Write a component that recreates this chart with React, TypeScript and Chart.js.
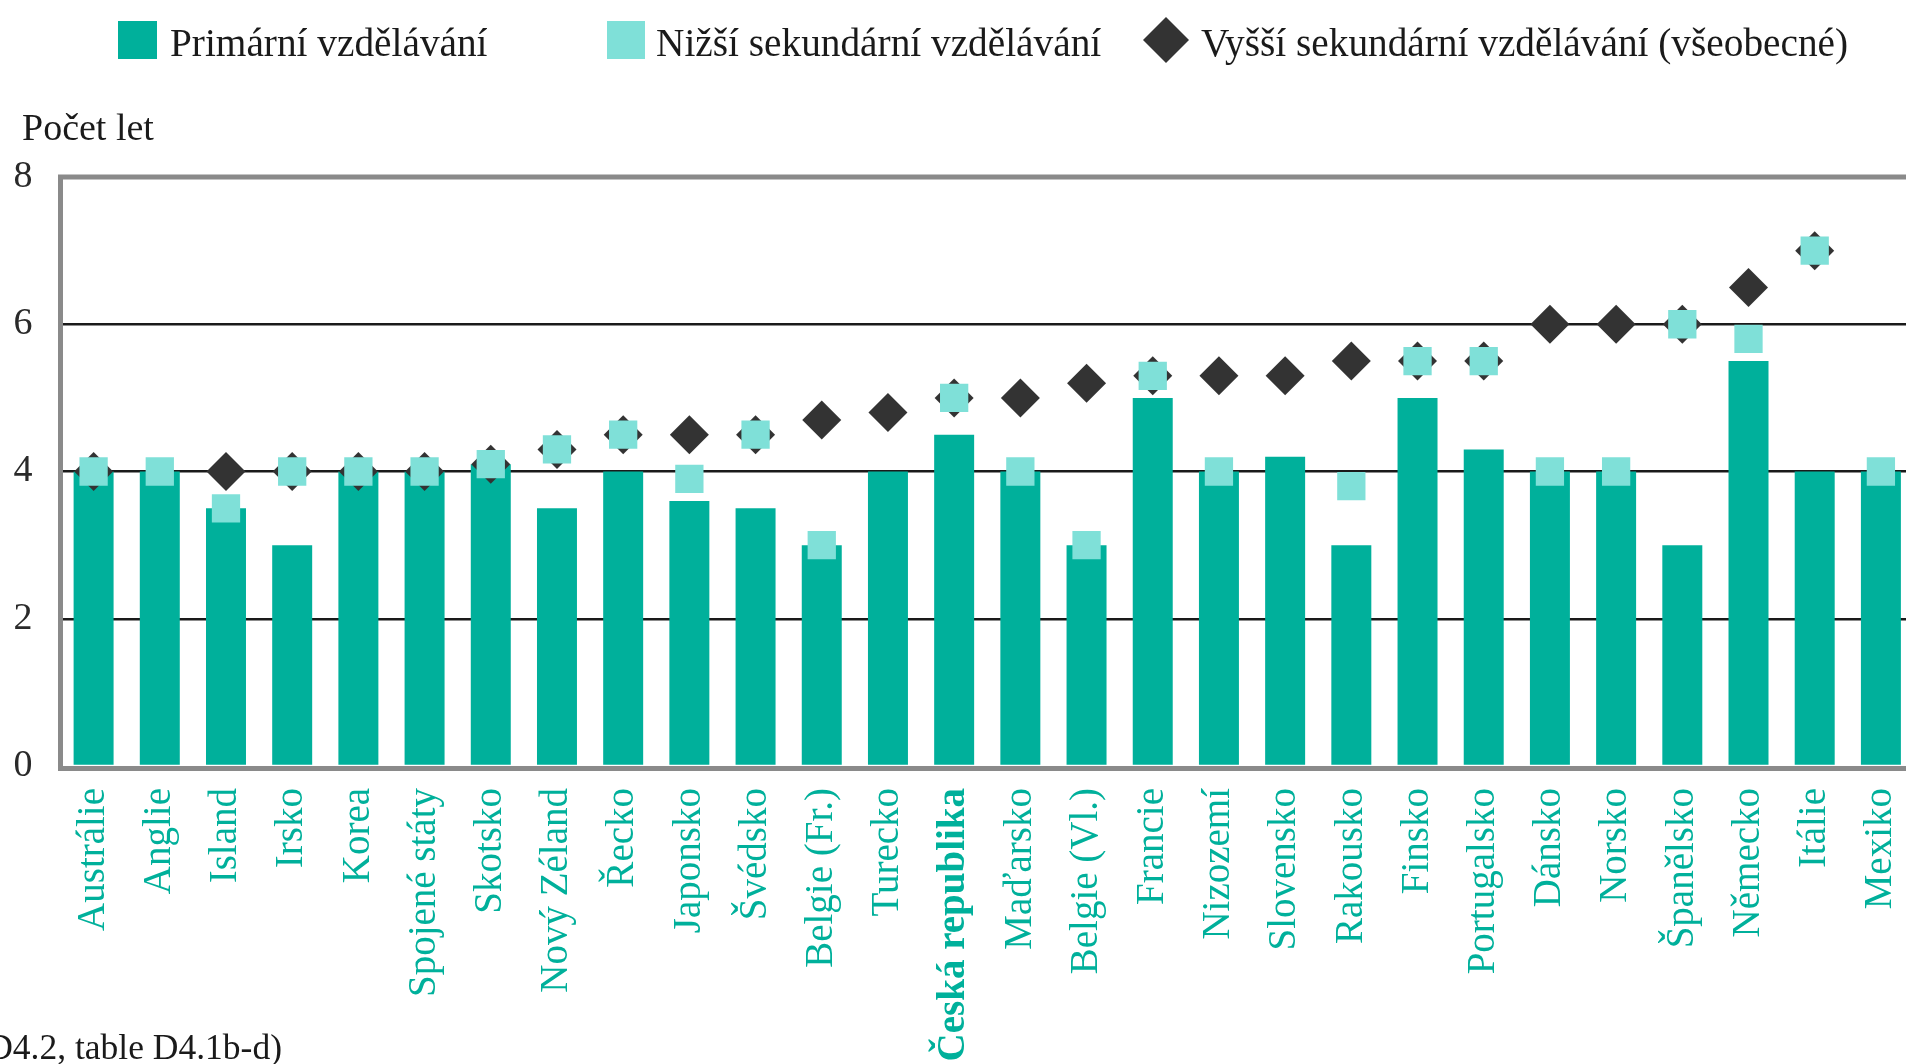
import React, { useEffect, useRef } from "react";
import { Chart, registerables } from "chart.js";

Chart.register(...registerables);

const categories = [
  "Austrálie", "Anglie", "Island", "Irsko", "Korea", "Spojené státy", "Skotsko",
  "Nový Zéland", "Řecko", "Japonsko", "Švédsko", "Belgie (Fr.)", "Turecko",
  "Česká republika", "Maďarsko", "Belgie (Vl.)", "Francie", "Nizozemí", "Slovensko",
  "Rakousko", "Finsko", "Portugalsko", "Dánsko", "Norsko", "Španělsko", "Německo",
  "Itálie", "Mexiko",
];

const primary = [4, 4, 3.5, 3, 4, 4, 4.1, 3.5, 4, 3.6, 3.5, 3, 4, 4.5, 4, 3, 5, 4, 4.2, 3, 5, 4.3, 4, 4, 3, 5.5, 4, 4];
const lowerSecondary = [4, 4, 3.5, 4, 4, 4, 4.1, 4.3, 4.5, 3.9, 4.5, 3, null, 5, 4, 3, 5.3, 4, null, 3.8, 5.5, 5.5, 4, 4, 6, 5.8, 7, 4];
const upperSecondary = [4, null, 4, 4, 4, 4, 4.1, 4.3, 4.5, 4.5, 4.5, 4.7, 4.8, 5, 5, 5.2, 5.3, 5.3, 5.3, 5.5, 5.5, 5.5, 6, 6, 6, 6.5, 7, null];

const yTicks = [0, 2, 4, 6, 8];
const seriesNames = [
  "Primární vzdělávání",
  "Nižší sekundární vzdělávání",
  "Vyšší sekundární vzdělávání (všeobecné)",
];
const yTitle = "Počet let";
const footnote = "D4.2, table D4.1b-d)";
const highlighted = "Česká republika";

const TEAL = "#00b09b";
const LIGHT = "#7fe0d8";
const DARK = "#333333";
const FRAME = "#8a8a8a";
const FONT = "'Liberation Serif', 'Times New Roman', serif";

const framePlugin = {
  id: "frame",
  beforeDatasetsDraw(chart: any) {
    const { ctx, chartArea, scales } = chart;
    const y = scales.y;
    const top = y.getPixelForValue(8);
    const bottom = y.getPixelForValue(0) + 2.5;
    ctx.save();
    ctx.strokeStyle = FRAME;
    ctx.lineWidth = 5;
    ctx.beginPath();
    ctx.moveTo(chartArea.right + 10, top);
    ctx.lineTo(chartArea.left, top);
    ctx.lineTo(chartArea.left, bottom);
    ctx.lineTo(chartArea.right + 10, bottom);
    ctx.stroke();
    ctx.restore();
  },
};

function ChartCanvas() {
  const ref = useRef<HTMLCanvasElement | null>(null);
  useEffect(() => {
    if (!ref.current) return;
    const chart = new Chart(ref.current, {
      type: "bar",
      data: {
        labels: categories,
        datasets: [
          {
            type: "line",
            label: seriesNames[1],
            data: lowerSecondary,
            showLine: false,
            pointStyle: "rect",
            pointRadius: 20,
            pointBackgroundColor: LIGHT,
            pointBorderWidth: 0,
            borderColor: LIGHT,
            backgroundColor: LIGHT,
            order: 0,
          } as any,
          {
            type: "line",
            label: seriesNames[2],
            data: upperSecondary,
            showLine: false,
            pointStyle: "rectRot",
            pointRadius: 19.5,
            pointBackgroundColor: DARK,
            pointBorderWidth: 0,
            borderColor: DARK,
            backgroundColor: DARK,
            order: 1,
          } as any,
          {
            type: "bar",
            label: seriesNames[0],
            data: primary,
            backgroundColor: TEAL,
            borderWidth: 0,
            categoryPercentage: 1,
            barPercentage: 0.604,
            order: 2,
          },
        ],
      },
      options: {
        responsive: false,
        animation: false,
        events: [],
        layout: { padding: { top: 177, left: 0, right: 1940 - 1914, bottom: 0 } },
        plugins: {
          legend: { display: false },
          tooltip: { enabled: false },
          title: { display: false },
        },
        scales: {
          x: {
            type: "category",
            offset: true,
            grid: { display: false, drawTicks: false },
            border: { display: false },
            ticks: {
              autoSkip: false,
              maxRotation: 90,
              minRotation: 90,
              padding: 22,
              color: TEAL,
              font: (c: any) => ({
                family: FONT,
                size: 39,
                weight: categories[c.index] === highlighted ? "bold" : "normal",
              }),
            },
            afterFit: (scale: any) => {
              scale.height = 1064 - 766;
              scale.paddingLeft = 0;
              scale.paddingRight = 0;
            },
          },
          y: {
            min: 0,
            max: 8,
            afterBuildTicks: (scale: any) => {
              scale.ticks = yTicks.map((v) => ({ value: v }));
            },
            grid: {
              drawTicks: false,
              color: (c: any) =>
                c.tick && (c.tick.value === 2 || c.tick.value === 4 || c.tick.value === 6)
                  ? "#1a1a1a"
                  : "rgba(0,0,0,0)",
              lineWidth: 2.5,
            },
            border: { display: false },
            ticks: {
              padding: 28,
              color: "#2a2a2a",
              font: { family: FONT, size: 38 },
            },
            afterFit: (scale: any) => {
              scale.width = 60.5;
            },
          },
        },
      },
      plugins: [framePlugin],
    });
    return () => chart.destroy();
  }, []);
  return <canvas ref={ref} width={1940} height={1064} style={{ display: "block" }} />;
}

export default function App() {
  const textBase: React.CSSProperties = {
    position: "absolute",
    fontFamily: FONT,
    whiteSpace: "nowrap",
    color: "#1a1a1a",
    lineHeight: 1,
  };
  return (
    <div
      style={{
        position: "absolute",
        left: 0,
        top: 0,
        width: 1906,
        height: 1064,
        overflow: "hidden",
        background: "#ffffff",
      }}
    >
      <div style={{ position: "absolute", left: 0, top: 0 }}>
        <ChartCanvas />
      </div>
      {/* Legend */}
      <div style={{ position: "absolute", left: 118, top: 21, width: 39, height: 38, background: TEAL }} />
      <div style={{ ...textBase, left: 170, top: 24, fontSize: 39.3 }}>{seriesNames[0]}</div>
      <div style={{ position: "absolute", left: 607, top: 21, width: 38, height: 38, background: LIGHT }} />
      <div style={{ ...textBase, left: 656, top: 24, fontSize: 39.3 }}>{seriesNames[1]}</div>
      <svg style={{ position: "absolute", left: 1143, top: 17 }} width={46} height={46}>
        <polygon points="23,0 46,23 23,46 0,23" fill={DARK} />
      </svg>
      <div style={{ ...textBase, left: 1201, top: 24, fontSize: 39.3 }}>{seriesNames[2]}</div>
      {/* Axis title */}
      <div style={{ ...textBase, left: 22, top: 108, fontSize: 38 }}>{yTitle}</div>
      {/* Footnote */}
      <div style={{ ...textBase, right: 1906 - 282, top: 1030, fontSize: 35.5 }}>{footnote}</div>
    </div>
  );
}
